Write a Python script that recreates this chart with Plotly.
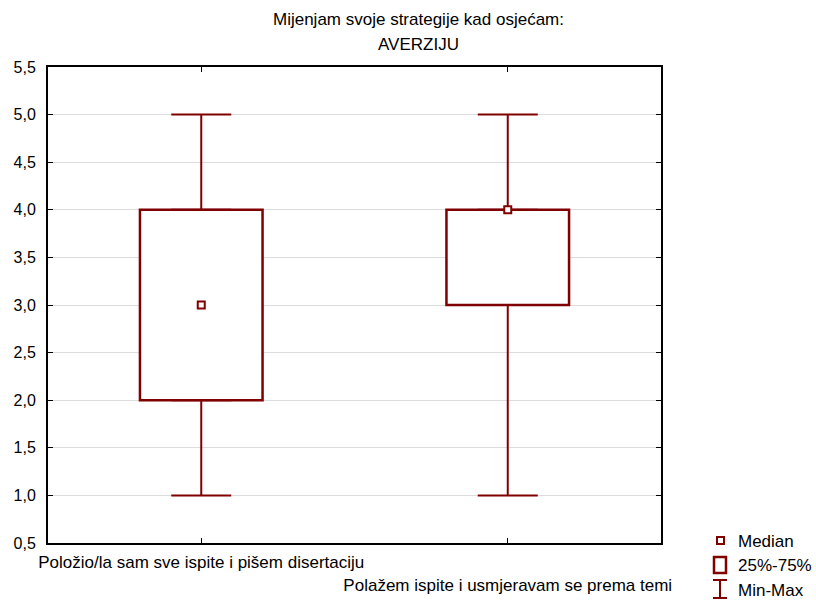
import plotly.graph_objects as go

categories = ["Položio/la sam sve ispite i pišem disertaciju",
              "Polažem ispite i usmjeravam se prema temi"]
tick_labels = ["Položio/la sam sve ispite i pišem disertaciju",
               "<br>Polažem ispite i usmjeravam se prema temi"]
mins = [1.0, 1.0]
q1s = [2.0, 3.0]
medians = [3.0, 4.0]
q3s = [4.0, 4.0]
maxs = [5.0, 5.0]

RED = "#800000"
FONT = "Arial, Liberation Sans, sans-serif"

fig = go.Figure()

# upper whiskers
fig.add_trace(go.Scatter(
    x=categories, y=q3s, mode="markers",
    marker=dict(size=1, color="rgba(0,0,0,0)"),
    error_y=dict(type="data", symmetric=False,
                 array=[mx - q for mx, q in zip(maxs, q3s)],
                 arrayminus=[0, 0], color=RED, thickness=2, width=30),
    showlegend=False, hoverinfo="skip"))
# lower whiskers
fig.add_trace(go.Scatter(
    x=categories, y=q1s, mode="markers",
    marker=dict(size=1, color="rgba(0,0,0,0)"),
    error_y=dict(type="data", symmetric=False,
                 array=[0, 0],
                 arrayminus=[q - mn for mn, q in zip(mins, q1s)],
                 color=RED, thickness=2, width=30),
    showlegend=False, hoverinfo="skip"))
# boxes
fig.add_trace(go.Bar(
    x=categories, y=[b - a for a, b in zip(q1s, q3s)], base=q1s,
    width=0.4, marker=dict(color="white", line=dict(color=RED, width=2.5)),
    showlegend=False, hoverinfo="skip"))
# medians
fig.add_trace(go.Scatter(
    x=categories, y=medians, mode="markers",
    marker=dict(symbol="square", size=7, color="white",
                line=dict(color=RED, width=2)),
    showlegend=False, hoverinfo="skip"))

W, H = 816, 601
L, R, T, B = 48, 155, 67, 58
pw, ph = W - L - R, H - T - B
def px(x):
    return (x - L) / pw
def py(y):
    return (H - B - y) / ph

shapes = [
    dict(type="rect", xref="paper", yref="paper", x0=px(717), x1=px(724),
         y0=py(544), y1=py(537), line=dict(color=RED, width=2), fillcolor="white"),
    dict(type="rect", xref="paper", yref="paper", x0=px(714), x1=px(726),
         y0=py(573), y1=py(557), line=dict(color=RED, width=2.5), fillcolor="white"),
    dict(type="line", xref="paper", yref="paper", x0=px(720), x1=px(720),
         y0=py(598), y1=py(580), line=dict(color=RED, width=2)),
    dict(type="line", xref="paper", yref="paper", x0=px(713), x1=px(727),
         y0=py(580), y1=py(580), line=dict(color=RED, width=2)),
    dict(type="line", xref="paper", yref="paper", x0=px(713), x1=px(727),
         y0=py(598), y1=py(598), line=dict(color=RED, width=2)),
]

annotations = [
    dict(text="Mijenjam svoje strategije kad osjećam:", xref="paper", yref="paper",
         x=px(418), y=py(20), showarrow=False, xanchor="center", yanchor="middle",
         font=dict(size=17, color="black", family=FONT)),
    dict(text="AVERZIJU", xref="paper", yref="paper",
         x=px(418), y=py(45), showarrow=False, xanchor="center", yanchor="middle",
         font=dict(size=17, color="black", family=FONT)),
]
for label, yy in [("Median", 541), ("25%-75%", 565), ("Min-Max", 590)]:
    annotations.append(dict(text=label, xref="paper", yref="paper", x=px(736), y=py(yy),
                            showarrow=False, xanchor="left", yanchor="middle",
                            font=dict(size=17, color="black", family=FONT)))

fig.update_layout(
    width=W, height=H,
    margin=dict(l=L, r=R, t=T, b=B, pad=0, autoexpand=False),
    paper_bgcolor="white", plot_bgcolor="white",
    separators=",.",
    font=dict(family=FONT, size=16, color="black"),
    barmode="overlay",
    shapes=shapes, annotations=annotations,
    showlegend=False,
    xaxis=dict(type="category", range=[-0.5, 1.5], tickvals=categories, ticktext=tick_labels,
               tickangle=0, automargin=False, ticklabelstandoff=3,
               showline=True, linecolor="black", linewidth=2, mirror="ticks",
               ticks="inside", ticklen=5, tickcolor="black", tickwidth=1,
               showgrid=False, zeroline=False, tickfont=dict(size=17)),
    yaxis=dict(range=[0.5, 5.5], dtick=0.5, tick0=0.5, tickformat=".1f", automargin=False,
               ticklabelstandoff=7,
               showline=True, linecolor="black", linewidth=2, mirror="ticks",
               ticks="inside", ticklen=5, tickcolor="black", tickwidth=1,
               showgrid=True, gridcolor="#dcdcdc", gridwidth=1, zeroline=False,
               tickfont=dict(size=16)),
)

fig.write_html("out.html", config={"displayModeBar": False},
               post_script="document.body.style.margin='0';document.body.style.overflow='hidden';")
